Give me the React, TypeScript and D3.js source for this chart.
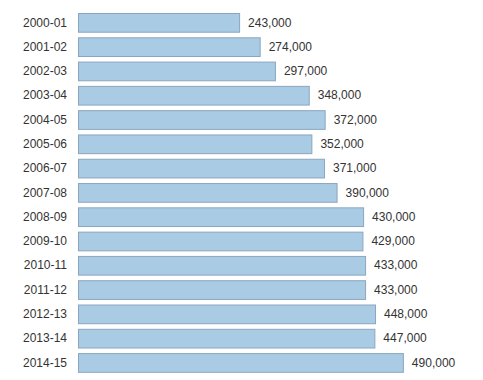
import React from "react";
import * as d3 from "d3";

const categories = ["2000-01","2001-02","2002-03","2003-04","2004-05","2005-06","2006-07","2007-08","2008-09","2009-10","2010-11","2011-12","2012-13","2013-14","2014-15"];
const values = [243000,274000,297000,348000,372000,352000,371000,390000,430000,429000,433000,433000,448000,447000,490000];

export default function App() {
  const W = 483, H = 380;
  const x = d3.scaleLinear().domain([0, 500000]).range([78, 78 + 331.5]);
  const y = d3.scaleBand().domain(categories).range([10.2, 374.6]).paddingInner(0.23).paddingOuter(0.115);
  const fmt = d3.format(",");
  return (
    <svg width={W} height={H} style={{ position: "absolute", left: 0, top: 0, background: "#fff" }}>
      {categories.map((c, i) => {
        const yy = y(c)!;
        return (
          <g key={c}>
            <text x={67} y={yy + y.bandwidth() / 2} dy="0.35em" textAnchor="end" fontFamily="Arial, Liberation Sans, sans-serif" fontSize={12} fill="#333">{c}</text>
            <rect x={x(0) + 0.5} y={yy + 0.5} width={x(values[i]) - x(0)} height={y.bandwidth()} fill="#a9cbe4" stroke="#8aa6bf" strokeWidth={1} />
            <text x={x(values[i]) + 9} y={yy + y.bandwidth() / 2} dy="0.35em" fontFamily="Arial, Liberation Sans, sans-serif" fontSize={12} fill="#333">{fmt(values[i])}</text>
          </g>
        );
      })}
    </svg>
  );
}
